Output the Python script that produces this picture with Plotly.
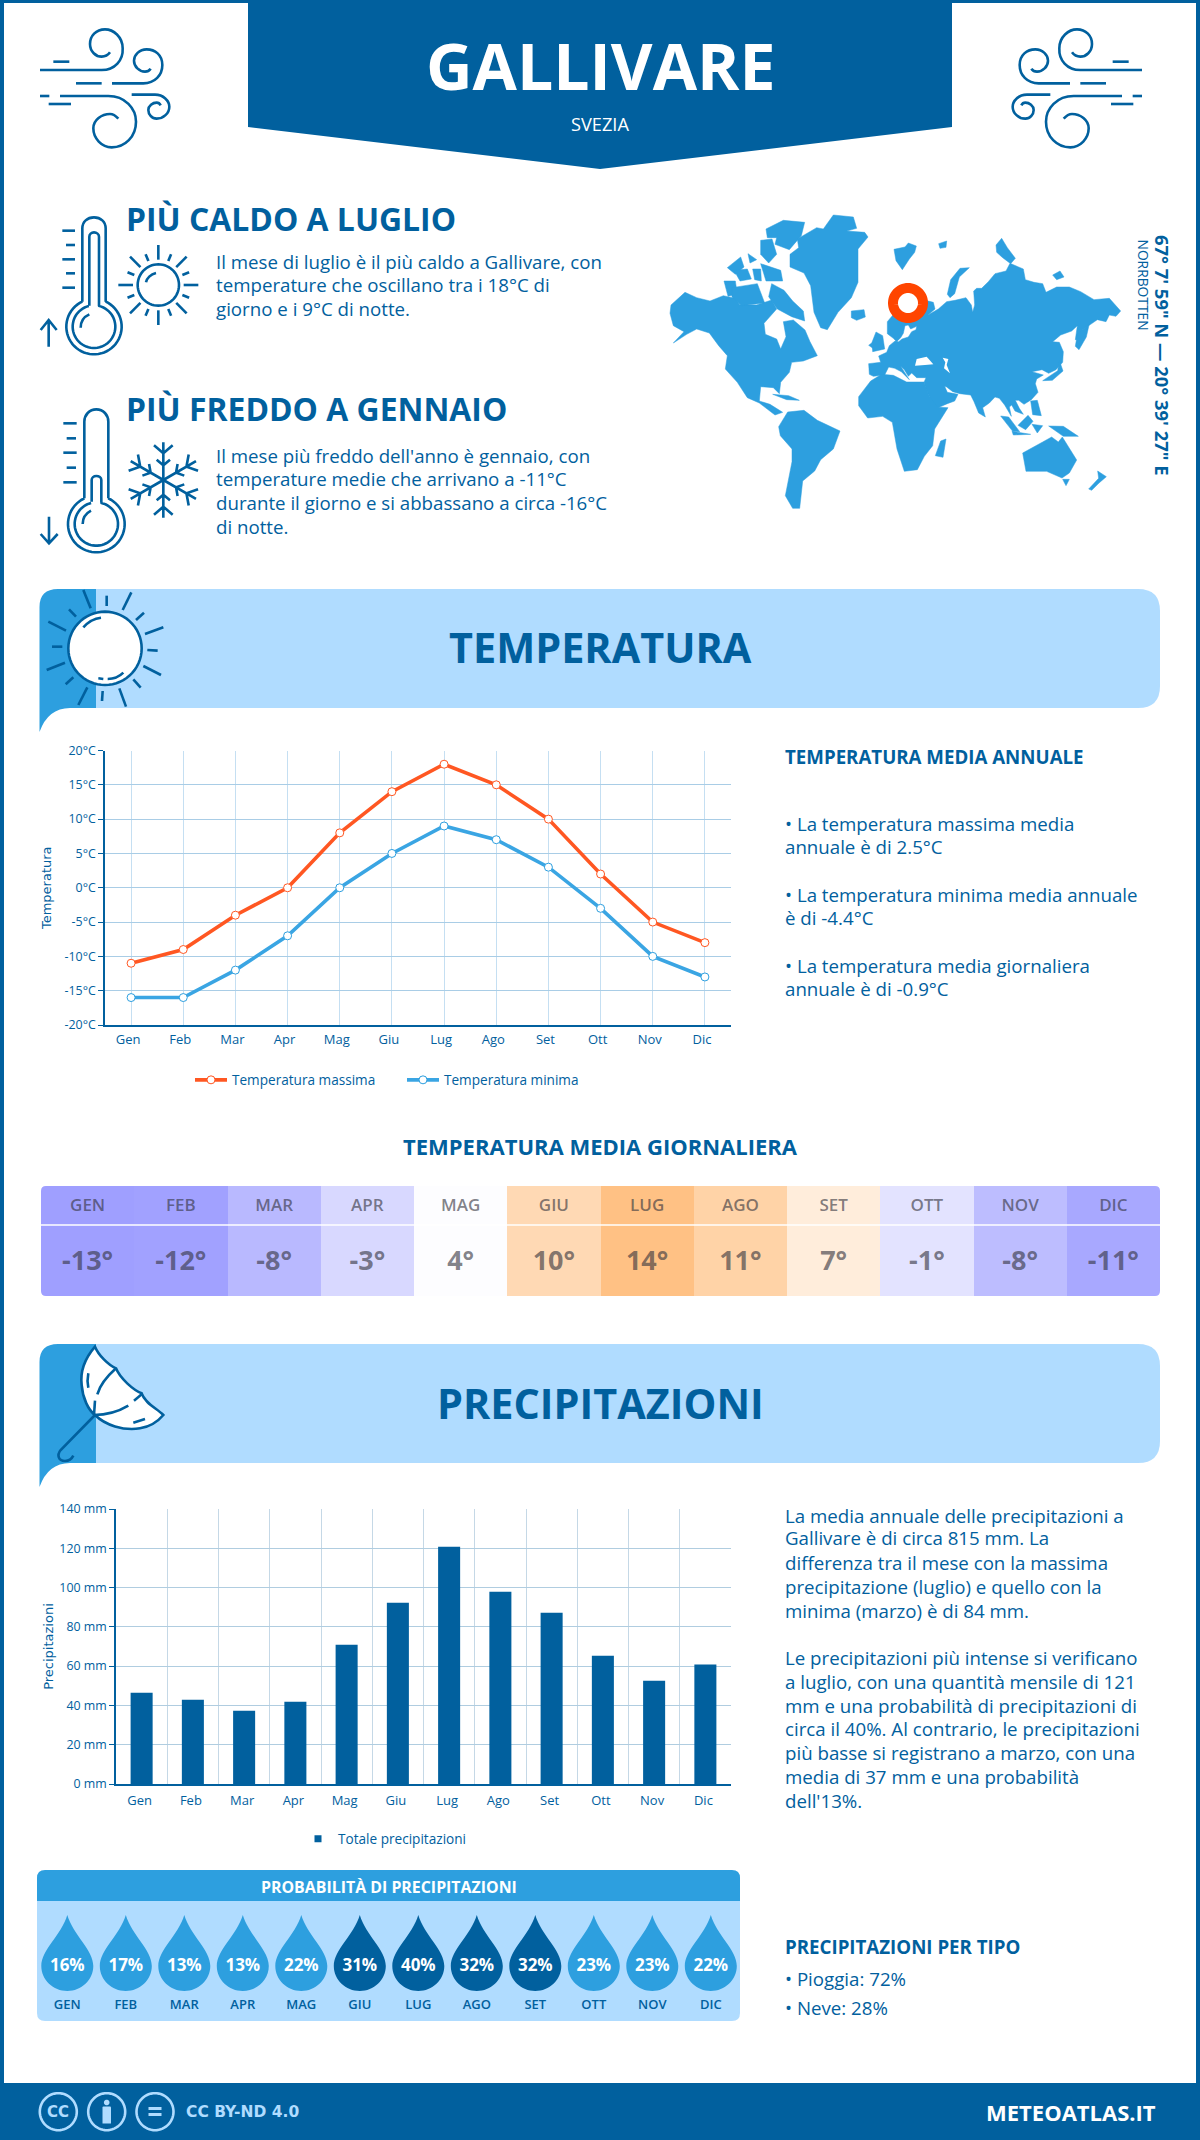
import math
import re

import plotly.graph_objects as go

DARK = "#01609e"
MID = "#2d9fdf"
LIGHT = "#b0dcff"
ORANGE = "#ff5722"
FONT = "Open Sans"

months = ["Gen", "Feb", "Mar", "Apr", "Mag", "Giu", "Lug", "Ago", "Set", "Ott", "Nov", "Dic"]
months_upper = ["GEN", "FEB", "MAR", "APR", "MAG", "GIU", "LUG", "AGO", "SET", "OTT", "NOV", "DIC"]

temp_max = [-11, -9, -4, 0, 8, 14, 18, 15, 10, 2, -5, -8]
temp_min = [-16, -16, -12, -7, 0, 5, 9, 7, 3, -3, -10, -13]
temp_ticks = [-20, -15, -10, -5, 0, 5, 10, 15, 20]
temp_tick_labels = ["-20°C", "-15°C", "-10°C", "-5°C", "0°C", "5°C", "10°C", "15°C", "20°C"]

temp_daily = [-12.8, -12.4, -8.2, -2.9, 3.6, 9.9, 13.7, 10.9, 6.8, -0.9, -7.6, -11.2]

rain_mm = [46.5, 42.9, 37.3, 41.9, 70.9, 92.3, 120.8, 97.9, 87.2, 65.3, 52.6, 60.8]
rain_ticks = [0, 20, 40, 60, 80, 100, 120, 140]
rain_tick_labels = ["0 mm", "20 mm", "40 mm", "60 mm", "80 mm", "100 mm", "120 mm", "140 mm"]

rain_prob = [16, 17, 13, 13, 22, 31, 40, 32, 32, 23, 23, 22]

hot_lines = [
    "Il mese di luglio è il più caldo a Gallivare, con",
    "temperature che oscillano tra i 18°C di",
    "giorno e i 9°C di notte.",
]
cold_lines = [
    "Il mese più freddo dell'anno è gennaio, con",
    "temperature medie che arrivano a -11°C",
    "durante il giorno e si abbassano a circa -16°C",
    "di notte.",
]
annual_lines = [
    "• La temperatura massima media",
    "annuale è di 2.5°C",
    "• La temperatura minima media annuale",
    "è di -4.4°C",
    "• La temperatura media giornaliera",
    "annuale è di -0.9°C",
]
rain_lines = [
    "La media annuale delle precipitazioni a",
    "Gallivare è di circa 815 mm. La",
    "differenza tra il mese con la massima",
    "precipitazione (luglio) e quello con la",
    "minima (marzo) è di 84 mm.",
    "Le precipitazioni più intense si verificano",
    "a luglio, con una quantità mensile di 121",
    "mm e una probabilità di precipitazioni di",
    "circa il 40%. Al contrario, le precipitazioni",
    "più basse si registrano a marzo, con una",
    "media di 37 mm e una probabilità",
    "dell'13%.",
]

# rough outlines for the world map, in the coordinates of a 3x crop
map_land = [
    [(33,300),(75,262),(110,278),(150,288),(190,272),(225,280),(240,300),(290,300),(335,285),(350,312),(312,355),(316,388),(350,402),(362,432),(378,395),(370,350),(400,345),(435,375),(450,410),(472,452),(430,468),(395,472),(388,502),(362,532),(358,566),(340,548),(302,545),(298,588),(330,598),(368,622),(345,630),(298,594),(262,578),(232,532),(196,492),(202,452),(176,422),(148,384),(110,372),(80,388),(40,414),(72,380),(40,362),(30,325)],
    [(335,236),(372,256),(398,288),(430,318),(434,348),(395,335),(352,312),(326,275)],
    [(318,72),(370,46),(434,52),(424,92),(388,134),(345,118),(350,98),(322,98)],
    [(302,106),(336,102),(350,148),(326,174),(302,148)],
    [(202,188),(242,156),(252,186),(226,208)],
    [(192,228),(226,228),(232,268),(204,274)],
    [(222,196),(262,192),(274,222),(240,228)],
    [(216,248),(292,236),(314,294),(244,302),(216,276)],
    [(278,192),(302,192),(304,228),(284,224)],
    [(302,176),(362,196),(368,228),(318,228)],
    [(264,146),(290,164),(270,174)],
    [(412,102),(470,68),(490,72),(520,30),(580,36),(590,70),(560,78),(614,82),(624,96),(594,132),(594,232),(574,278),(534,322),(502,374),(482,368),(462,322),(452,242),(432,204),(390,186),(390,148),(416,128)],
    [(574,318),(612,314),(616,336),(590,346),(574,338)],
    [(702,133),(735,126),(745,114),(769,123),(764,142),(748,162),(727,194),(708,167)],
    [(836,116),(860,108),(858,127),(840,130)],
    [(862,268),(872,224),(900,190),(928,188),(898,216),(884,266),(870,278)],
    [(1008,120),(1025,100),(1042,128),(1066,160),(1052,176),(1028,158),(1010,142)],
    [(1178,210),(1200,198),(1212,216),(1190,224)],
    [(628,508),(626,476),(662,472),(656,453),(680,442),(688,422),(705,408),(716,410),(726,402),(745,396),(755,380),(768,374),(770,364),(752,372),(745,360),(735,362),(730,385),(722,398),(710,410),(700,400),(682,386),(682,350),(697,332),(718,302),(745,286),(780,282),(820,292),(825,312),(804,330),(835,312),(860,290),(885,286),(918,278),(934,300),(938,322),(944,300),(941,258),(950,250),(965,250),(985,230),(1005,206),(1038,198),(1050,175),(1090,192),(1096,224),(1122,232),(1148,236),(1158,262),(1190,246),(1228,246),(1262,260),(1302,284),(1348,280),(1382,318),(1368,334),(1348,330),(1338,350),(1312,344),(1292,358),(1268,374),(1258,404),(1246,404),(1252,362),(1235,378),(1202,390),(1178,410),(1198,412),(1210,440),(1208,472),(1188,494),(1166,505),(1146,494),(1116,500),(1150,510),(1130,522),(1126,536),(1134,562),(1114,584),(1092,598),(1076,586),(1066,586),(1078,610),(1090,628),(1065,618),(1055,600),(1048,606),(1054,634),(1034,600),(1018,580),(1005,576),(988,594),(968,608),(976,636),(956,624),(942,590),(932,570),(900,566),(878,560),(860,546),(854,544),(862,562),(894,568),(884,588),(862,596),(830,610),(812,584),(798,552),(792,532),(798,518),(770,518),(755,504),(745,514),(733,494),(722,484),(748,524),(724,500),(704,490),(686,486),(674,510),(640,514)],
    [(596,575),(632,528),(665,508),(700,511),(740,531),(792,531),(808,574),(832,606),(864,608),(824,672),(818,722),(793,754),(772,794),(733,799),(711,732),(697,652),(668,634),(623,639),(596,602)],
    [(356,665),(383,621),(432,616),(472,646),(540,678),(520,732),(482,764),(464,798),(428,828),(419,910),(398,910),(376,872),(396,770),(396,732),(361,692)],
    [(338,568),(386,572),(418,586),(380,584)],
    [(826,752),(842,708),(858,702),(849,757)],
    [(1148,527),(1193,497),(1198,466),(1209,498),(1177,526)],
    [(1246,424),(1252,388),(1288,356),(1279,396),(1257,434)],
    [(636,412),(648,381),(668,392),(674,432),(638,440)],
    [(626,421),(640,410),(642,432)],
    [(1074,661),(1104,631),(1119,649),(1097,674)],
    [(1022,633),(1046,636),(1079,680),(1058,679)],
    [(1056,679),(1112,688),(1060,690)],
    [(1166,663),(1210,664),(1255,694),(1210,694)],
    [(1116,658),(1148,662),(1132,684)],
    [(1112,588),(1132,586),(1144,632),(1118,629)],
    [(1088,744),(1148,711),(1175,696),(1195,711),(1207,696),(1250,765),(1228,804),(1206,819),(1160,799),(1098,799)],
    [(1208,823),(1228,823),(1218,842)],
    [(1313,798),(1339,815),(1317,834),(1295,856),(1286,852),(1316,820)],
]
map_water = [
    [(770,462),(800,455),(820,478),(795,480),(765,482)],
    [(848,458),(865,462),(860,480),(870,505),(852,490),(856,472)],
]


def place(d, x0, y0, sx=1 / 3, sy=1 / 3):
    count = [0]

    def conv(m):
        v = float(m.group())
        count[0] += 1
        if count[0] % 2:
            return f"{x0 + v * sx:.2f}"
        return f"{y0 + v * sy:.2f}"

    return re.sub(r"-?\d+\.?\d*", conv, d)


def poly(points):
    return "M " + " L ".join(f"{x} {y}" for x, y in points) + " Z"


def arc(cx, cy, r, a0, a1, first="L"):
    n = max(4, int(abs(a1 - a0) / 6))
    out = []
    for i in range(n + 1):
        a = math.radians(a0 + (a1 - a0) * i / n)
        cmd = first if i == 0 else "L"
        out.append(f"{cmd} {cx + r * math.cos(a):.1f} {cy + r * math.sin(a):.1f}")
    return " ".join(out)


def rrect(x0, y0, x1, y1, tl=0, tr=0, br=0, bl=0):
    return (
        f"M {x0 + tl} {y0} L {x1 - tr} {y0} Q {x1} {y0} {x1} {y0 + tr} "
        f"L {x1} {y1 - br} Q {x1} {y1} {x1 - br} {y1} "
        f"L {x0 + bl} {y1} Q {x0} {y1} {x0} {y1 - bl} "
        f"L {x0} {y0 + tl} Q {x0} {y0} {x0 + tl} {y0} Z"
    )


shapes = []
annotations = []


def fill(path, color, layer="below"):
    shapes.append(dict(type="path", path=path, xref="x", yref="y", fillcolor=color,
                       line=dict(width=0), layer=layer))


def stroke(path, width=2.6, color=DARK, fillcolor=None):
    shape = dict(type="path", path=path, xref="x", yref="y",
                 line=dict(width=width, color=color), layer="below")
    if fillcolor:
        shape["fillcolor"] = fillcolor
    shapes.append(shape)


def label(x, y, text, size, color=DARK, bold=False, anchor="left", family=FONT, angle=0, yanchor="middle"):
    annotations.append(dict(
        x=x, y=y, xref="x", yref="y", text=text, showarrow=False, xanchor=anchor, yanchor=yanchor,
        textangle=angle, font=dict(family=family, size=size, color=color, weight=700 if bold else 400),
    ))


# frame, header, footer
fill("M 0 0 L 4 0 L 4 2140 L 0 2140 Z", DARK)
fill("M 1196 0 L 1200 0 L 1200 2140 L 1196 2140 Z", DARK)
fill("M 0 0 L 1200 0 L 1200 3 L 0 3 Z", DARK)
fill("M 248 0 L 952 0 L 952 127 L 600 169 L 248 127 Z", DARK)
fill("M 0 2083 L 1200 2083 L 1200 2140 L 0 2140 Z", DARK)

wind = [
    "M 30 150 L 215 150 C 255 150 280 120 278 85 C 278 50 250 28 225 28 C 198 28 180 48 180 72 C 180 95 198 110 215 110 C 225 110 235 104 240 97",
    "M 70 125 L 118 125",
    "M 138 190 L 215 190",
    "M 246 190 L 340 190 C 375 190 397 165 397 135 C 397 105 375 88 350 88 C 328 88 312 105 312 122 C 312 140 328 155 345 155 C 352 155 358 152 362 146",
    "M 30 228 L 58 228",
    "M 90 228 L 235 228 C 285 228 318 265 318 305 C 318 350 285 382 245 382 C 215 382 190 355 190 325 C 190 300 215 282 240 282 C 250 282 258 288 265 296",
    "M 56 252 L 123 252",
    "M 305 224 L 375 224 C 400 224 418 242 418 260 C 418 280 400 296 380 296 C 365 296 355 282 355 270 C 355 258 368 248 380 248 C 385 248 390 252 392 256",
]
for d in wind:
    stroke(place(d, 30, 20))
    stroke(place(d, 1152, 20, sx=-1 / 3))

# thermometers
hot = [
    "M 157 290 L 157 70 C 157 50 172 37 192 37 C 212 37 227 50 227 70 L 227 290 " + arc(192, 365, 83, -65, 245),
    "M 178 302 L 178 95 C 178 88 184 82 192 82 C 200 82 207 88 207 95 L 207 302 " + arc(192, 365, 64, -76, 256),
    "M 152 368 C 152 350 162 335 178 328",
    "M 97 77 L 135 77", "M 108 120 L 135 120", "M 97 163 L 135 163", "M 108 205 L 135 205", "M 97 248 L 135 248",
    "M 56 425 L 56 345 M 32 375 L 56 345 L 80 375",
]
for d in hot:
    stroke(place(d, 30, 205))
cold = [
    "M 163 295 L 163 65 C 163 45 178 28 199 28 C 220 28 235 45 235 65 L 235 295 " + arc(199, 372, 85, -65, 245),
    "M 185 305 L 185 240 C 185 233 191 228 199 228 C 207 228 214 233 214 240 L 214 305 " + arc(199, 372, 65, -76, 256),
    "M 158 372 C 158 355 168 340 183 332",
    "M 100 70 L 140 70", "M 110 115 L 138 115", "M 100 158 L 140 158", "M 110 203 L 138 203", "M 100 247 L 140 247",
    "M 57 350 L 57 430 M 32 402 L 57 430 L 83 402",
]
for d in cold:
    stroke(place(d, 30, 400))

# small sun
sun = [arc(385, 240, 62, 0, 360, first="M") + " Z", "M 348 232 C 350 220 362 208 378 204"]
for i in range(16):
    a = math.radians(i * 22.5)
    r0, r1 = (76, 120) if i % 2 == 0 else (78, 100)
    sun.append(f"M {385 + r0 * math.cos(a):.1f} {240 + r0 * math.sin(a):.1f} L {385 + r1 * math.cos(a):.1f} {240 + r1 * math.sin(a):.1f}")
for d in sun:
    stroke(place(d, 30, 205))

# snowflake
for i in range(6):
    a = math.radians(i * 60 - 90)
    ux, uy = math.cos(a), math.sin(a)
    vx, vy = -uy, ux
    cx, cy = 400, 240
    parts = [f"M {cx:.1f} {cy:.1f} L {cx + 113 * ux:.1f} {cy + 113 * uy:.1f}"]
    for r, spread, reach in [(80, 28, 24), (44, 20, 17)]:
        px_, py_ = cx + r * ux, cy + r * uy
        parts.append(
            f"M {px_ + reach * ux + spread * vx:.1f} {py_ + reach * uy + spread * vy:.1f} "
            f"L {px_:.1f} {py_:.1f} L {px_ + reach * ux - spread * vx:.1f} {py_ + reach * uy - spread * vy:.1f}"
        )
    stroke(place(" ".join(parts), 30, 400))

# world map
for ring in map_land:
    stroke(place(poly(ring), 660, 205), width=0.5, color=MID, fillcolor=MID)
for ring in map_water:
    fill(place(poly(ring), 660, 205), "white")
stroke(arc(908, 303, 15, 0, 360, first="M") + " Z", width=10, color="#ff4500", fillcolor="white")

# section banners
for top in (589, 1344):
    bot = top + 119
    fill(rrect(96, top, 1160, bot, tr=22, br=22), LIGHT)
    fill(f"M 96 {top} L 96 {bot} L 70 {bot} Q 48 {bot} 39.5 {bot + 24} L 39.5 {top + 18} Q 39.5 {top} 58 {top} Z", MID)

banner_sun = [
    "M 160 30 L 182 85", "M 230 47 L 230 78", "M 304 37 L 278 90", "M 342 98 L 318 120", "M 400 142 L 345 162",
    "M 352 210 L 383 212", "M 340 258 L 393 285", "M 310 298 L 332 323", "M 268 325 L 288 380", "M 218 333 L 216 363",
    "M 172 322 L 145 375", "M 130 292 L 107 313", "M 105 248 L 50 270", "M 97 200 L 66 200", "M 108 152 L 55 125",
    "M 138 110 L 117 88", "M 160 142 C 175 125 195 115 213 113", "M 205 295 L 220 297", "M 233 297 C 250 297 268 290 280 278",
]
stroke(place(arc(225, 205, 110, 0, 360, first="M") + " Z", 30, 580), fillcolor="white")
for d in banner_sun:
    stroke(place(d, 30, 580))

canopy = ("M 195 35 C 165 70 150 110 155 150 C 158 190 175 225 195 240 C 225 270 280 288 330 280 C 360 275 385 258 400 240 "
          "C 380 220 345 205 335 175 C 310 165 270 130 258 100 C 235 90 205 60 195 35 Z")
stroke(place(canopy, 30, 1335), fillcolor="white")
umbrella = [
    "M 258 100 C 230 125 210 150 202 178", "M 195 197 L 192 240", "M 192 240 C 235 240 265 230 295 212",
    "M 312 197 L 335 178", "M 175 115 C 172 130 172 145 175 158", "M 310 263 L 345 252",
    "M 195 240 L 92 345 C 80 360 85 378 105 378 C 115 378 125 372 130 362",
]
for d in umbrella:
    stroke(place(d, 30, 1335))

# probability panel
fill(rrect(37, 1870, 740, 1901, tl=8, tr=8), MID)
fill(rrect(37, 1901, 740, 2021, br=8, bl=8), LIGHT)

# cc icons
for cx in (58.3, 106.7, 155):
    stroke(arc(cx, 2111.7, 18.5, 0, 360, first="M") + " Z", width=2.6, color=LIGHT)
fill(arc(106.7, 2102.5, 2.8, 0, 360, first="M") + " Z", LIGHT)
fill(rrect(102.5, 2106.5, 111, 2123.5, tl=1, tr=1), LIGHT)
fill("M 148.5 2107 L 161.5 2107 L 161.5 2110 L 148.5 2110 Z", LIGHT)
fill("M 148.5 2113 L 161.5 2113 L 161.5 2116 L 148.5 2116 Z", LIGHT)

# page texts
label(600, 65, "GALLIVARE", 64.3, color="white", bold=True, anchor="center")
label(600, 124, "SVEZIA", 18.2, color="white", anchor="center")
label(123.5, 218.5, "PIÙ CALDO A LUGLIO", 31.9, bold=True)
label(123.5, 408.5, "PIÙ FREDDO A GENNAIO", 31.9, bold=True)
for text, y in zip(hot_lines, [261, 284, 308]):
    label(213.5, y, text, 18.7)
for text, y in zip(cold_lines, [455, 478, 502, 526]):
    label(213.5, y, text, 18.7)
label(1163, 355, "67° 7' 59\" N — 20° 39' 27\" E", 18.4, bold=True, anchor="center", angle=90)
label(1143, 237, "NORRBOTTEN", 13.8, anchor="center", angle=90, yanchor="top")
label(600, 647, "TEMPERATURA", 41.4, bold=True, anchor="center")
label(600, 1403, "PRECIPITAZIONI", 41.4, bold=True, anchor="center")
label(783, 756, "TEMPERATURA MEDIA ANNUALE", 18.7, bold=True)
for text, y in zip(annual_lines, [823, 846, 894, 917, 965, 988]):
    label(783, y, text, 18.7)
label(600, 1146, "TEMPERATURA MEDIA GIORNALIERA", 22, bold=True, anchor="center")
for text, y in zip(rain_lines, [1515, 1537, 1562, 1586, 1610, 1657, 1681, 1705, 1728, 1752, 1776, 1800]):
    label(783, y, text, 18.7)
label(389, 1887, "PROBABILITÀ DI PRECIPITAZIONI", 15.9, color="white", bold=True, anchor="center")
label(783, 1946, "PRECIPITAZIONI PER TIPO", 18.7, bold=True)
label(783, 1978.5, "• Pioggia: 72%", 18.7)
label(783, 2007.5, "• Neve: 28%", 18.7)
label(58.3, 2111.7, "CC", 15, color=LIGHT, bold=True, anchor="center", family="DejaVu Sans")
label(184, 2112, "CC BY-ND 4.0", 15.5, color=LIGHT, bold=True, family="DejaVu Sans")
label(1158, 2112, "METEOATLAS.IT", 22, color="white", bold=True, anchor="right")

# drops sit on their own month axis
for i, p in enumerate(rain_prob):
    shapes.append(dict(
        type="path", xref="x5", yref="y5", xsizemode="pixel", xanchor=i, layer="below",
        path="M 0 1915 C -6 1935 -26 1950 -26 1966 C -26 1980 -14 1991 0 1991 C 14 1991 26 1980 26 1966 C 26 1950 6 1935 0 1915 Z",
        fillcolor=DARK if p >= 30 else MID, line=dict(width=0),
    ))

# tile heatmap corners and divider
for x, y, r in [(41, 1186, 5), (1160, 1186, -5)]:
    fill(f"M {x} {y} L {x + r} {y} Q {x} {y} {x} {y + 5} Z", "white", layer="above")
for x, y, r in [(41, 1296, 5), (1160, 1296, -5)]:
    fill(f"M {x} {y} L {x + r} {y} Q {x} {y} {x} {y - 5} Z", "white", layer="above")
shapes.append(dict(type="line", xref="x", yref="y", x0=41, x1=1160, y0=1225, y1=1225,
                   line=dict(color="white", width=1.5), layer="above"))


def xdom(a, b):
    return [a / 1200, b / 1200]


def ydom(top, bottom):
    return [1 - bottom / 2140, 1 - top / 2140]


fig = go.Figure()

fig.add_trace(go.Scatter(
    x=months, y=temp_max, name="Temperatura massima", mode="lines+markers", xaxis="x2", yaxis="y2",
    line=dict(color=ORANGE, width=3.6), marker=dict(size=8, color="white", line=dict(color=ORANGE, width=1)),
    legend="legend",
))
fig.add_trace(go.Scatter(
    x=months, y=temp_min, name="Temperatura minima", mode="lines+markers", xaxis="x2", yaxis="y2",
    line=dict(color="#3aa5e3", width=3.6), marker=dict(size=8, color="white", line=dict(color=MID, width=1)),
    legend="legend",
))
fig.add_trace(go.Bar(
    x=months, y=rain_mm, xaxis="x3", yaxis="y3", showlegend=False,
    marker=dict(color=DARK, line=dict(width=0)), width=0.43,
))
fig.add_trace(go.Scatter(
    x=[None], y=[None], name="Totale precipitazioni", mode="markers", xaxis="x3", yaxis="y3",
    marker=dict(symbol="square", size=7, color=DARK), legend="legend2",
))

zmin, zmax, zmid = -13, 14, 4
fig.add_trace(go.Heatmap(
    x=months_upper, y=[0, 70, 110], z=[temp_daily, temp_daily], xaxis="x4", yaxis="y4",
    zmin=zmin, zmax=zmax, showscale=False, hoverinfo="skip",
    colorscale=[[0, "#9e9eff"], [(zmid - zmin) / (zmax - zmin), "#ffffff"], [1, "#ffbf80"]],
))
fig.add_trace(go.Scatter(
    x=months_upper, y=[89] * 12, mode="text", text=months_upper, xaxis="x4", yaxis="y4", showlegend=False,
    textfont=dict(family=FONT, size=17, color="rgba(50,50,60,0.62)", weight=600),
))
fig.add_trace(go.Scatter(
    x=months_upper, y=[33] * 12, mode="text", text=[f"{round(t)}°" for t in temp_daily], xaxis="x4", yaxis="y4",
    showlegend=False, textfont=dict(family=FONT, size=27, color="rgba(50,50,60,0.62)", weight=700),
))
fig.add_trace(go.Scatter(
    x=list(range(12)), y=[1967] * 12, mode="text", text=[f"{p}%" for p in rain_prob], xaxis="x5", yaxis="y5",
    showlegend=False, textfont=dict(family=FONT, size=17, color="white", weight=700),
))
fig.add_trace(go.Scatter(
    x=list(range(12)), y=[2006] * 12, mode="text", text=months_upper, xaxis="x5", yaxis="y5",
    showlegend=False, textfont=dict(family=FONT, size=13, color=DARK, weight=600),
))

tick_font = dict(family=FONT, size=13, color=DARK)
ytick_font = dict(family=FONT, size=12.4, color=DARK)
title_font = dict(family="DejaVu Sans", size=13, color=DARK)
hidden = dict(visible=False, showgrid=False, zeroline=False)

fig.update_layout(
    width=1200, height=2140, margin=dict(l=0, r=0, t=0, b=0, pad=0, autoexpand=False),
    paper_bgcolor="white", plot_bgcolor="rgba(0,0,0,0)", bargap=0.57,
    shapes=shapes, annotations=annotations,
    xaxis=dict(range=[0, 1200], domain=[0, 1], **hidden),
    yaxis=dict(range=[2140, 0], domain=[0, 1], **hidden),
    xaxis2=dict(
        domain=xdom(105, 731), anchor="y2", type="category", categoryorder="array", categoryarray=months,
        range=[-0.5, 11.5], showgrid=True, gridcolor="#c5dff2", gridwidth=1, showline=True, linecolor=DARK,
        linewidth=1.5, ticks="", tickfont=tick_font, ticklabelstandoff=2, ticklabelshift=-3,
    ),
    yaxis2=dict(
        domain=ydom(750.5, 1025), anchor="x2", range=[-20, 20], tickvals=temp_ticks, ticktext=temp_tick_labels,
        showgrid=True, gridcolor="#a9cde6", gridwidth=1, zeroline=False, showline=True, linecolor=DARK, linewidth=1.5,
        ticks="outside", ticklen=5, tickcolor=DARK, tickwidth=1, tickfont=ytick_font,
        title=dict(text="Temperatura", font=title_font, standoff=10),
    ),
    xaxis3=dict(
        domain=xdom(116, 731), anchor="y3", type="category", categoryorder="array", categoryarray=months,
        range=[-0.5, 11.5], showgrid=True, gridcolor="#c5d8e6", gridwidth=1, tickson="boundaries", showline=True,
        linecolor=DARK, linewidth=1.5, ticks="", tickfont=tick_font, ticklabelstandoff=4, ticklabelshift=-2,
    ),
    yaxis3=dict(
        domain=ydom(1509, 1784), anchor="x3", range=[0, 140], tickvals=rain_ticks, ticktext=rain_tick_labels,
        showgrid=True, gridcolor="#b0cde0", gridwidth=1, zeroline=False, showline=True, linecolor=DARK, linewidth=1.5,
        ticks="outside", ticklen=5, tickcolor=DARK, tickwidth=1, tickfont=ytick_font,
        title=dict(text="Precipitazioni", font=title_font, standoff=3),
    ),
    xaxis4=dict(domain=xdom(41, 1160), anchor="y4", type="category", categoryorder="array", categoryarray=months_upper,
                range=[-0.5, 11.5], **hidden),
    yaxis4=dict(domain=ydom(1186, 1296), anchor="x4", range=[0, 110], **hidden),
    xaxis5=dict(domain=xdom(37, 740), anchor="y5", range=[(37 - 67.3) / 58.5, (740 - 67.3) / 58.5], **hidden),
    yaxis5=dict(domain=ydom(1901, 2021), anchor="x5", range=[2021, 1901], **hidden),
    legend=dict(
        orientation="h", x=190 / 1200, y=1 - 1080 / 2140, xanchor="left", yanchor="middle", itemwidth=32,
        entrywidth=165, entrywidthmode="pixels",
        font=dict(family=FONT, size=13.6, color=DARK), bgcolor="rgba(0,0,0,0)",
    ),
    legend2=dict(
        orientation="h", x=298 / 1200, y=1 - 1839 / 2140, xanchor="left", yanchor="middle", itemwidth=30,
        font=dict(family=FONT, size=13.6, color=DARK), bgcolor="rgba(0,0,0,0)",
    ),
)

fig.write_html("out.html", config={"displayModeBar": False}, post_script="document.body.style.margin='0';")
